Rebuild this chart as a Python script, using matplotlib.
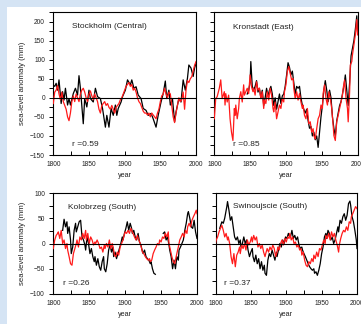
import numpy as np
import matplotlib
matplotlib.use("Agg")
import matplotlib.pyplot as plt
from matplotlib.patches import Rectangle
from matplotlib.ticker import MultipleLocator

plt.rcParams['font.family'] = ['Liberation Sans', 'DejaVu Sans']

# Stockholm (Central)
sto_black_yr = [1800, 1802, 1804, 1806, 1808, 1811, 1813, 1815, 1817, 1820, 1822, 1824, 1828, 1831, 1834,
                1836, 1838, 1842, 1844, 1847, 1850, 1852, 1856, 1859, 1862, 1866, 1869, 1873, 1875, 1878,
                1881, 1884, 1887, 1889, 1891, 1895, 1897, 1901, 1904, 1908, 1910, 1913, 1916, 1919, 1923,
                1926, 1930, 1933, 1937, 1940, 1944, 1947, 1951, 1954, 1957, 1959, 1962, 1964, 1967, 1970,
                1972, 1976, 1979, 1982, 1985, 1988, 1990, 1993, 1996, 1998, 2000]
sto_black = [33, 30, 38, 20, 47, -15, 16, -6, 25, -19, -2, -19, 11, 25, 7,
             58, 25, -68, -2, -24, 20, -2, -11, 25, 3, -2, -28, -77, -46, -77,
             -28, -46, -19, -46, -28, -11, 3, 20, 47, 34, 47, 25, 29, 7, -2,
             -28, -33, -46, -41, -55, -77, -46, -11, 11, 44, -2, 20, -19, -2, -63,
             -37, -2, -11, 47, 20, 51, 86, 78, 56, 78, 91]
sto_red_yr = list(range(1800, 2001, 2))
sto_red = [-15, 15, 20, 32, 10, -5, 15, -10, -20, -30, -50, -60, -40, -10, 5, -10, 10, 0, -10, 10,
           20, 25, 15, 0, -10, 10, 18, 5, -5, 10, 0, -10, -30, -40, -20, -15, -10, -20, -15, -25,
           -30, -20, -30, -40, -25, -20, -15, -5, 0, 10, 20, 30, 35, 40, 30, 35, 20, 25, 15, 0,
           -10, -15, -25, -35, -40, -40, -45, -40, -50, -40, -45, -50, -55, -40, -30, -10, 5, 10, 25, 10,
           0, 15, 10, -20, -50, -65, -40, -20, 0, -10, -5, 15, -30, 20, 45, 40, 50, 55, 70, 85, 95]

# Kronstadt (East)
kro_red_yr = [1800, 1802, 1804, 1807, 1809, 1811, 1814, 1815, 1816, 1818, 1820, 1822, 1824, 1826, 1828,
              1829, 1830, 1832, 1834, 1835, 1837, 1839, 1841, 1842, 1844, 1846, 1848, 1850, 1852, 1854,
              1855, 1857, 1859, 1861, 1863, 1865, 1867, 1869, 1870, 1872, 1874, 1876, 1878, 1880, 1882,
              1883, 1885, 1887, 1889, 1891, 1893, 1895, 1897, 1898, 1900, 1902, 1904, 1906, 1908, 1910,
              1911, 1913, 1915, 1917, 1919, 1921, 1923, 1924, 1926, 1928, 1930, 1932, 1934, 1936, 1938,
              1939, 1941, 1943, 1945, 1947, 1949, 1951, 1952, 1954, 1956, 1958, 1960, 1962, 1964, 1966,
              1967, 1969, 1971, 1973, 1975, 1977, 1979, 1980, 1982, 1984, 1986, 1987, 1989, 1990, 1992,
              1993, 1995, 1997, 1999, 2000]
kro_red = [-55, -2, 3, 25, 47, -2, 16, -19, 11, -11, 7, -55, -90, -112, -28,
           -46, -19, -55, -28, -2, 16, -11, 34, 7, 16, 25, 11, 60, 29, 16,
           25, 7, 42, 20, 25, -2, 16, -28, -6, -15, 16, -6, 25, 7, -28,
           -37, -11, -55, -37, -19, -28, -2, -11, 16, 34, 69, 82, 64, 47, 51,
           25, -2, 16, -6, 11, -11, -28, -19, -46, -55, -28, -68, -63, -90, -81,
           -99, -108, -81, -55, -46, -19, -28, 11, 34, -2, -19, 16, -2, -28, -72,
           -99, -112, -63, -46, -28, -11, 7, 25, 47, -2, -28, -63, 16, 86, 95,
           113, 139, 166, 205, 165]
kro_black_yr = [1846, 1848, 1850, 1851, 1853, 1855, 1857, 1859, 1861, 1863, 1865, 1867, 1869, 1871, 1873,
                1875, 1877, 1879, 1881, 1883, 1885, 1887, 1889, 1891, 1893, 1895, 1897, 1899, 1901, 1903,
                1905, 1907, 1909, 1911, 1913, 1915, 1917, 1919, 1921, 1923, 1925, 1927, 1929, 1931, 1933,
                1935, 1937, 1939, 1941, 1943, 1945, 1947, 1949, 1951, 1953, 1955, 1957, 1959, 1961, 1963,
                1965, 1967, 1969, 1971, 1973, 1975, 1977, 1979, 1981, 1983, 1985, 1987, 1989, 1991, 1993,
                1995, 1997, 1999, 2000]
kro_black = [10, 20, 40, 95, 30, 20, 30, 45, 15, 25, 0, 20, -20, 0, 25,
             5, 20, 30, 10, -20, 0, -30, -10, 10, -15, 5, 10, 30, 60, 92,
             80, 60, 70, 40, 10, 30, 25, 30, 0, -20, -30, -40, -30, -60, -80,
             -75, -100, -90, -110, -100, -130, -90, -50, -20, 20, 45, 20, -10, 20, 0,
             -50, -80, -100, -60, -40, -20, -10, 10, 30, 60, 20, -20, 40, 110, 130,
             150, 180, 215, 175]

# Kolobrzeg (South)
kol_black_yr = [1813, 1815, 1817, 1819, 1820, 1822, 1824, 1825, 1827, 1829, 1831, 1832, 1834, 1836, 1838,
                1840, 1842, 1844, 1845, 1847, 1849, 1851, 1853, 1855, 1857, 1858, 1860, 1862, 1864, 1866,
                1868, 1870, 1871, 1873, 1875, 1877, 1879, 1881, 1883, 1884, 1886, 1888, 1890, 1892, 1894,
                1896, 1897, 1899, 1901, 1903, 1905, 1907, 1909, 1910, 1912, 1914, 1916, 1918, 1920, 1922,
                1923, 1925, 1927, 1929, 1931, 1933, 1935, 1936, 1938, 1940, 1942, 1947,
                1953, 1955, 1957, 1959, 1961, 1962, 1964, 1966, 1968, 1970, 1972, 1974, 1975, 1977, 1979,
                1981, 1983, 1985, 1987, 1988, 1990, 1992, 1994, 1996, 1998, 2000]
kol_black = [26, 48, 33, 43, 20, 33, 7, -20, -7, 26, 40, 23, 33, 43, 46,
             13, 7, -3, -13, 13, 0, -20, -10, -26, -36, -26, -43, -30, -46, -53,
             -36, -26, -50, -56, -40, -13, -3, -17, -7, -26, -17, -30, -20, -10, 0,
             13, 7, 20, 30, 43, 26, 40, 30, 20, 26, 13, 7, 20, 3, -3,
             -10, -20, -13, -26, -30, -33, -40, -36, -50, -59, -61, np.nan,
             20, 23, 7, 13, -3, -13, -26, -50, -33, -50, -26, -33, -13, -7, 0,
             7, 26, 40, 59, 63, 50, 33, 30, 46, 23, 10]
kol_red_yr = [1800, 1802, 1804, 1806, 1807, 1809, 1811, 1813, 1815, 1817, 1819, 1820, 1822, 1824, 1826,
              1828, 1830, 1832, 1833, 1835, 1837, 1839, 1841, 1843, 1845, 1846, 1848, 1850, 1852, 1854,
              1856, 1858, 1859, 1861, 1863, 1865, 1867, 1869, 1871, 1872, 1874, 1876, 1878, 1880, 1882,
              1884, 1885, 1887, 1889, 1891, 1893, 1895, 1897, 1898, 1900, 1902, 1904, 1906, 1908, 1910,
              1911, 1913, 1915, 1917, 1919, 1921, 1923, 1924, 1926, 1928, 1930, 1932, 1934, 1935, 1937,
              1939, 1941, 1943, 1945, 1947, 1948, 1950, 1952, 1954, 1956, 1958, 1960, 1961, 1963, 1965,
              1967, 1969, 1971, 1973, 1974, 1976, 1978, 1980, 1982, 1984, 1986, 1987, 1989, 1991, 1993,
              1995, 1997, 1999, 2000]
kol_red = [-10, 7, 16, 20, 23, 10, 26, 0, 7, -10, 0, -13, -26, -40, -43,
           -20, -10, 0, 7, -7, 13, 7, 20, 10, 26, 7, 20, 0, 13, 7,
           -3, 3, 0, 7, 0, -10, -7, -17, -3, -10, 0, -7, 7, -10, 0,
           -13, -23, -26, -17, -23, -7, 0, 7, 13, 23, 20, 26, 20, 30, 23,
           20, 13, 7, 16, 7, 0, -10, -17, -20, -26, -30, -33, -30, -36, -33,
           -20, -13, -7, 0, -3, 7, 3, 13, 10, 20, 13, 23, 0, -13, -26,
           -36, -40, -26, -13, -7, 7, 13, 20, 13, 26, 20, 33, 40, 33, 46,
           53, 59, 66, 59]

# Swinoujscie (South)
swi_black_yr = [1806, 1809, 1811, 1813, 1816, 1817, 1819, 1821, 1823, 1825, 1827, 1829, 1831, 1833, 1835,
                1836, 1838, 1840, 1842, 1844, 1846, 1848, 1850, 1852, 1853, 1855, 1857, 1859, 1861, 1863,
                1865, 1867, 1869, 1870, 1872, 1874, 1876, 1878, 1880, 1882, 1884, 1886, 1887, 1889, 1891,
                1893, 1895, 1897, 1899, 1901, 1903, 1904, 1906, 1908, 1910, 1912, 1914, 1916, 1918, 1920,
                1922, 1923, 1925, 1927, 1929, 1931, 1933, 1935, 1937, 1939, 1940, 1942, 1944, 1946, 1948,
                1950, 1952, 1954, 1956, 1957, 1959, 1961, 1963, 1965, 1967, 1969, 1971, 1973, 1974, 1976,
                1978, 1980, 1982, 1984, 1986, 1988, 1990, 1991, 1993, 1995, 1997, 1999, 2000]
swi_black = [30, 43, 40, 50, 73, 83, 66, 46, 53, 33, 13, 7, 13, 0, 7,
             -7, 0, 13, 0, 7, -13, -26, -17, -10, -26, -36, -23, -40, -30, -50,
             -36, -53, -43, -59, -63, -33, -20, -26, -13, -23, -33, -17, -26, -13, 0,
             -7, 7, 0, 13, 10, 20, 16, 13, 26, 10, 16, 7, 13, -3, -10,
             -7, -13, -20, -26, -33, -40, -46, -50, -53, -50, -59, -56, -63, -53, -40,
             -20, -7, 13, 20, 10, 26, 20, 7, 13, 0, 7, 20, 33, 23, 46,
             40, 53, 59, 46, 56, 79, 84, 76, 53, 43, 26, 7, -10]
swi_red_yr = [1800, 1801, 1803, 1805, 1807, 1809, 1811, 1813, 1815, 1817, 1818, 1820, 1822, 1824, 1826,
              1828, 1830, 1832, 1834, 1835, 1837, 1839, 1841, 1843, 1845, 1847, 1849, 1851, 1852, 1854,
              1856, 1858, 1860, 1862, 1864, 1866, 1868, 1870, 1871, 1873, 1875, 1877, 1879, 1881, 1883,
              1885, 1887, 1888, 1890, 1892, 1894, 1896, 1898, 1900, 1902, 1904, 1905, 1907, 1909, 1911,
              1913, 1915, 1917, 1919, 1921, 1922, 1924, 1926, 1928, 1930, 1932, 1934, 1936, 1938, 1939,
              1941, 1943, 1945, 1947, 1949, 1951, 1953, 1955, 1956, 1958, 1960, 1962, 1964, 1966, 1968,
              1970, 1972, 1974, 1975, 1977, 1979, 1981, 1983, 1985, 1987, 1989, 1991, 1992, 1994, 1996,
              1998, 2000]
swi_red = [0, 7, 13, 23, 30, 36, 26, 13, 20, 7, 13, 0, -26, -40, -20,
           -46, -23, -17, -7, -20, -3, -10, 0, -13, 7, -3, 3, 13, 3, 16,
           7, 13, -7, 0, -10, -3, -17, -26, -20, -10, -17, -7, -13, -3, -10,
           -26, -17, -7, -13, 0, 7, -3, 10, 3, 13, 10, 20, 7, 13, 0,
           3, -7, -3, -13, -10, -23, -17, -33, -43, -46, -36, -40, -30, -36, -23,
           -30, -17, -26, -10, -13, -3, 7, 0, 16, 10, 20, 7, 23, 13, 20,
           7, -3, -17, -3, 10, 20, 26, 23, 33, 26, 43, 40, 53, 59, 66,
           73, 69]

panels = [
    ("Stockholm (Central)", "r =0.59", sto_black_yr, sto_black, sto_red_yr, sto_red),
    ("Kronstadt (East)", "r =0.85", kro_black_yr, kro_black, kro_red_yr, kro_red),
    ("Kolobrzeg (South)", "r =0.26", kol_black_yr, kol_black, kol_red_yr, kol_red),
    ("Swinoujscie (South)", "r =0.37", swi_black_yr, swi_black, swi_red_yr, swi_red),
]

W, H = 361, 324
fig = plt.figure(figsize=(W / 100, H / 100), dpi=100)
fig.patch.set_facecolor('#d5e4f4')
# white sheet behind the panels
bg = fig.add_axes([7 / W, 0, 1 - 7 / W, 1 - 7 / H], zorder=-10)
bg.set_axis_off()
bg.add_patch(Rectangle((0, 0), 1, 1, transform=bg.transAxes, facecolor='white', edgecolor='none'))

# axes boxes in pixels: left, top, right, bottom
boxes = [(53.3, 12, 196, 155), (214.3, 12, 357.5, 155),
         (53.3, 193, 197, 294), (215.5, 193, 357, 294)]
title_pos = [(0.13, 0.90), (0.13, 0.89), (0.10, 0.86), (0.125, 0.87)]
r_pos = [(0.13, 0.07), (0.13, 0.07), (0.07, 0.10), (0.06, 0.10)]
txt = '#222222'

for i, (name, rtxt, bx, by, rx, ry) in enumerate(panels):
    l, t, r, b = boxes[i]
    ax = fig.add_axes([l / W, 1 - b / H, (r - l) / W, (b - t) / H])
    ax.set_facecolor('none')
    ax.plot(rx, ry, color='#ff1a1a', lw=0.9, zorder=3)
    ax.plot(bx, by, color='black', lw=0.9, zorder=2)
    ax.axhline(0, color='black', lw=0.8, zorder=4)
    ax.set_xlim(1800, 2000)
    if i < 2:
        ax.set_ylim(-150, 225)
    else:
        ax.set_ylim(-100, 100)
    ax.yaxis.set_major_locator(MultipleLocator(50))
    ax.yaxis.set_minor_locator(MultipleLocator(25))
    ax.xaxis.set_major_locator(MultipleLocator(50))
    ax.xaxis.set_minor_locator(MultipleLocator(25))
    ax.tick_params(axis='y', which='both', direction='out', length=3, width=0.7,
                   labelsize=4.8, pad=3, labelcolor=txt)
    ax.tick_params(axis='x', which='both', direction='in', length=3, width=0.7,
                   labelsize=4.8, pad=4, labelcolor=txt)
    if i % 2 == 1:
        ax.tick_params(axis='y', labelleft=False)
    else:
        ax.set_ylabel('sea-level anomaly (mm)', fontsize=5.6, color=txt, labelpad=3)
    ax.set_xlabel('year', fontsize=5.2, color=txt, labelpad=3)
    for s in ax.spines.values():
        s.set_linewidth(0.8)
    ax.text(title_pos[i][0], title_pos[i][1], name, transform=ax.transAxes,
            fontsize=6, color=txt, va='center', ha='left')
    ax.text(r_pos[i][0], r_pos[i][1], rtxt, transform=ax.transAxes,
            fontsize=6, color=txt, va='center', ha='left')

fig.savefig('out.png', dpi=100, facecolor=fig.get_facecolor())
